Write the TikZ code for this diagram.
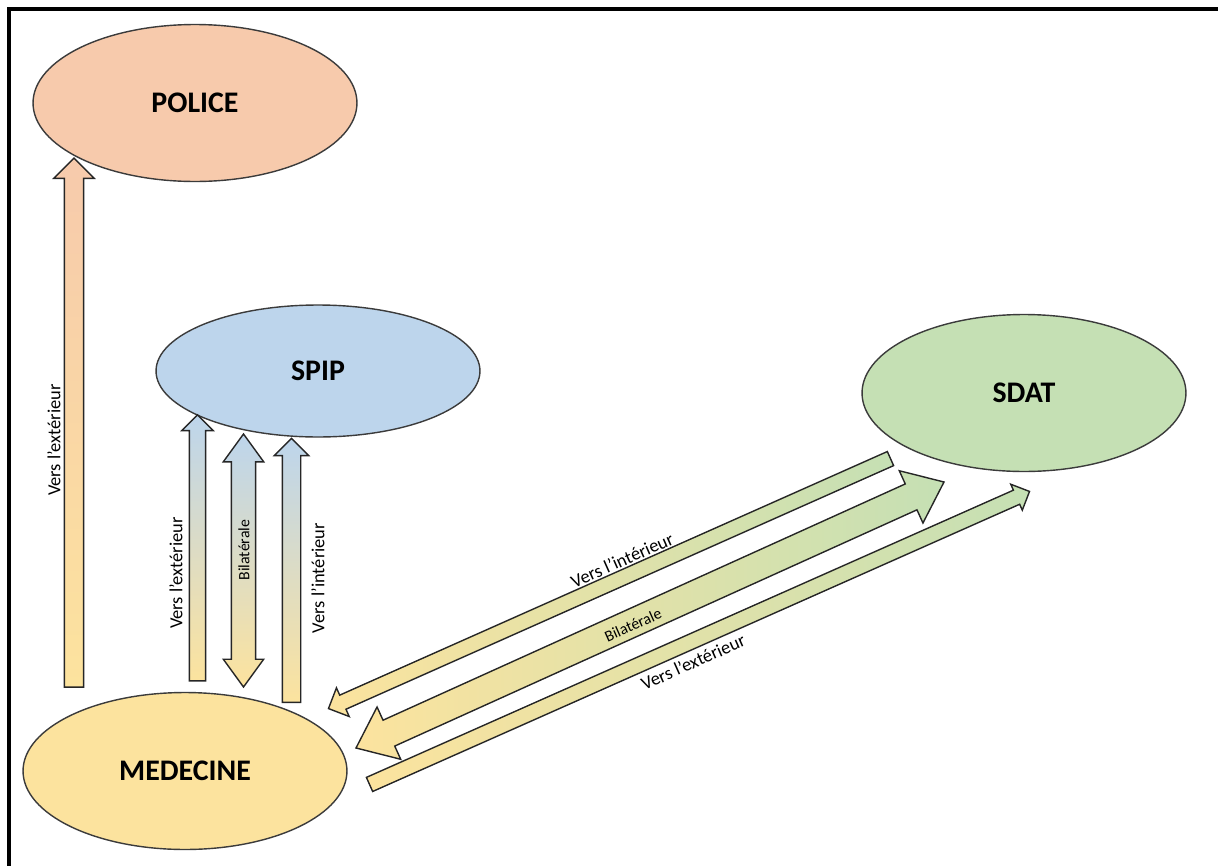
\documentclass[tikz,border=0pt]{standalone}
\usepackage{fontspec}
\setmainfont{Carlito}
\usepackage{tikz}
\usetikzlibrary{calc, shapes.geometric, shapes.arrows}

\definecolor{policefill}{HTML}{F7CAAC}
\definecolor{spipfill}{HTML}{BDD5EC}
\definecolor{sdatfill}{HTML}{C5E0B4}
\definecolor{medfill}{HTML}{FCE39E}
\definecolor{rim}{HTML}{3B3B3B}

% block arrow between two named points
\newcommand{\blockarrow}[3]{%
  \path let \p1 = ($(#3)-(#2)$), \n1 = {veclen(\x1,\y1)}, \n2 = {atan2(\y1,\x1)} in
    node[flow, minimum height=\n1, rotate=\n2, #1] at ($(#2)!0.5!(#3)$) {};}

\tikzset{
  blob/.style = {ellipse, draw=rim, line width=0.8pt, minimum width=6.48cm, minimum height=3.14cm, inner sep=0pt, font=\fontsize{17}{20}\selectfont\bfseries},
  flow/.style = {single arrow, draw=black!85, line width=0.8pt, inner xsep=0pt, single arrow tip angle=90},
  up/.style = {top color=#1, bottom color=medfill},
  across/.style = {left color=medfill, right color=sdatfill},
  lbl/.style = {font=\fontsize{10.5}{12}\selectfont, inner sep=1pt},
  small/.style = {font=\fontsize{9}{10}\selectfont},
}

\begin{document}
\begin{tikzpicture}[x=0.02cm, y=-0.02cm]
	\useasboundingbox (0,0) rectangle (1218,866);
	\draw[line width=2.3pt] (9,866) -- (9,9) -- (1218,9);
	
	% services
	\node[blob, fill=policefill] (police) at (195,103) {POLICE};
	\node[blob, fill=spipfill, minimum height=2.64cm] (spip) at (318,371) {SPIP};
	\node[blob, fill=sdatfill] (sdat) at (1024,393) {SDAT};
	\node[blob, fill=medfill] (med) at (185,771) {MEDECINE};
	
	% arrow ends
	\coordinate (pol-a) at (74,692);
	\coordinate (pol-b) at (74,163);
	\coordinate (sa-a) at (197.5,685);
	\coordinate (sa-b) at (197.5,419);
	\coordinate (sb-a) at (243.5,687);
	\coordinate (sb-b) at (243.5,434);
	\coordinate (sc-a) at (291.5,707);
	\coordinate (sc-b) at (291.5,443);
	\coordinate (da-a) at (894,457);
	\coordinate (da-b) at (332,707);
	\coordinate (db-a) at (356,748);
	\coordinate (db-b) at (944,482);
	\coordinate (dc-a) at (366,786);
	\coordinate (dc-b) at (1026,493);
	
	\blockarrow{inner ysep=0.18cm, single arrow head extend=0.21cm, up=policefill}{pol-a}{pol-b}
	\blockarrow{inner ysep=0.15cm, single arrow head extend=0.15cm, up=spipfill}{sa-a}{sa-b}
	\blockarrow{double arrow, inner ysep=0.23cm, double arrow head extend=0.16cm, double arrow tip angle=72, up=spipfill}{sb-a}{sb-b}
	\blockarrow{inner ysep=0.17cm, single arrow head extend=0.16cm, up=spipfill}{sc-a}{sc-b}
	\blockarrow{inner ysep=0.14cm, single arrow head extend=0.16cm, across}{da-a}{da-b}
	\blockarrow{double arrow, inner ysep=0.27cm, double arrow head extend=0.29cm, double arrow tip angle=77, across}{db-a}{db-b}
	\blockarrow{inner ysep=0.14cm, single arrow head extend=0.13cm, across}{dc-a}{dc-b}
	
	% labels
	\node[lbl, rotate=90] (l-pol) at (54,440) {Vers l'extérieur};
	\node[lbl, rotate=90] (l-sa) at (176,573) {Vers l'extérieur};
	\node[lbl, small, rotate=90] (l-sb) at (244,550) {Bilatérale};
	\node[lbl, rotate=90] (l-sc) at (318,578) {Vers l'intérieur};
	\node[lbl, rotate=24] (l-da) at (622,560) {Vers l'intérieur};
	\node[lbl, small, rotate=24] (l-db) at (633,625) {Bilatérale};
	\node[lbl, rotate=24] (l-dc) at (693,662) {Vers l'extérieur};
\end{tikzpicture}
\end{document}
